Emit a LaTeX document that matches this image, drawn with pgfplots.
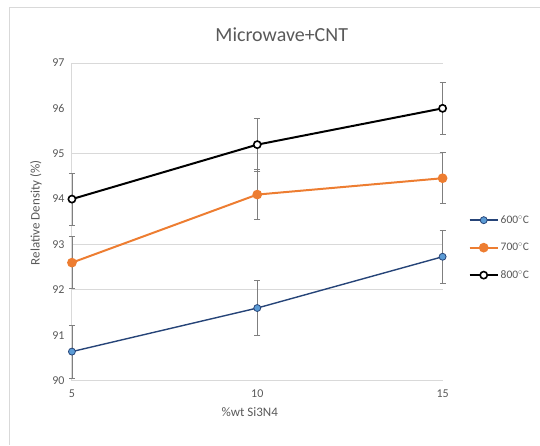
\documentclass[border=0pt]{standalone}
\usepackage{pgfplots}
\pgfplotsset{compat=1.18}
\usepackage{fontspec}
\setmainfont{Carlito}
\definecolor{gridc}{RGB}{217,217,217}
\definecolor{txtc}{RGB}{89,89,89}
\definecolor{bluef}{RGB}{91,155,213}
\definecolor{bluel}{RGB}{38,68,120}
\definecolor{orng}{RGB}{237,125,49}
\definecolor{errc}{RGB}{127,127,127}
\begin{document}
\begin{tikzpicture}[x=1pt,y=1pt]
\path (0,0) rectangle (540,445);
\draw[gridc, line width=1pt] (9.5,0) -- (9.5,437.5) -- (540,437.5);
\begin{axis}[
  at={(72pt,64pt)}, anchor=south west,
  scale only axis, width=371pt, height=318pt,
  xmin=5, xmax=15, ymin=90, ymax=97,
  xtick={5,10,15}, ytick={90,91,...,97},
  axis x line*=bottom, axis y line*=left,
  axis line style={gridc, line width=1pt},
  tick style={draw=none},
  /pgf/number format/assume math mode=true,
  ticklabel style={font=\fontsize{12}{14}\selectfont, text=txtc},
  yticklabel style={xshift=-4pt},
  xticklabel style={yshift=-6pt},
  extra y ticks={92,93,95,97}, extra y tick labels={},
  extra y tick style={ymajorgrids=true, major grid style={gridc, line width=0.8pt}},
  clip=false,
  legend style={at={(1.07,0.527)}, anchor=north west, draw=none, fill=none,
    font=\fontsize{11.5}{13}\selectfont, text=txtc, row sep=14pt, inner sep=0pt},
  legend image code/.code={\draw[#1] (0pt,0pt) -- (28pt,0pt); \draw[#1, only marks] plot coordinates {(14pt,0pt)};},
  error bars/error bar style={errc, line width=0.8pt},
  error bars/error mark options={rotate=90, mark size=3pt, errc, line width=0.8pt},
]
\addplot[bluel, line width=1.4pt, mark=*, mark size=3.5pt, mark options={fill=bluef, draw=bluel, line width=0.8pt},
  error bars/.cd, y dir=both, y explicit]
  coordinates {(5,90.64) +- (0,0.58) (10,91.6) +- (0,0.6) (15,92.73) +- (0,0.58)};
\addlegendentry{600$^\circ$C}
\addplot[orng, line width=2pt, mark=*, mark size=3.8pt, mark options={fill=orng, draw=orng},
  error bars/.cd, y dir=both, y explicit]
  coordinates {(5,92.6) +- (0,0.57) (10,94.1) +- (0,0.55) (15,94.46) +- (0,0.56)};
\addlegendentry{700$^\circ$C}
\addplot[black, line width=2pt, mark=*, mark size=3.6pt, mark options={fill=white, draw=black, line width=1.6pt},
  error bars/.cd, y dir=both, y explicit]
  coordinates {(5,94.0) +- (0,0.57) (10,95.2) +- (0,0.58) (15,96.0) +- (0,0.57)};
\addlegendentry{800$^\circ$C}
\end{axis}
\node[text=txtc, font=\fontsize{20}{24}\selectfont] at (282,410) {Microwave+CNT};
\node[text=txtc, font=\fontsize{13}{15}\selectfont] at (250,33) {\%wt Si3N4};
\node[text=txtc, font=\fontsize{13}{15}\selectfont, rotate=90] at (36,232) {Relative Density (\%)};
\end{tikzpicture}
\end{document}
